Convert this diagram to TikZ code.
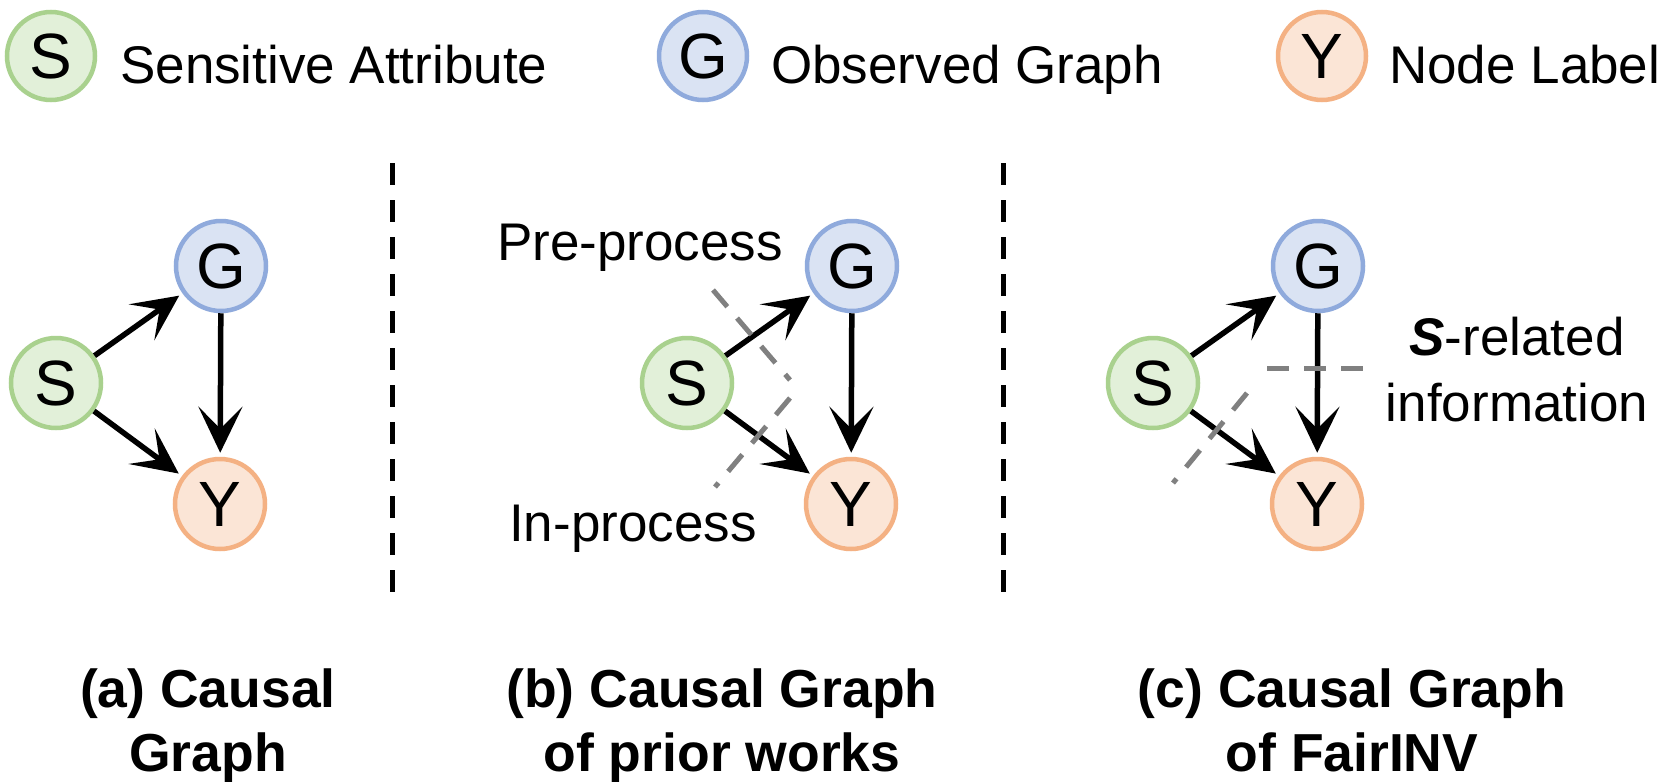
\documentclass[tikz,border=0pt]{standalone}
\usepackage{fontspec}
\setmainfont{Liberation Sans}
\usetikzlibrary{arrows.meta}
\definecolor{sfill}{HTML}{E2F0D9}
\definecolor{sdraw}{HTML}{A9D18E}
\definecolor{gfill}{HTML}{DAE3F3}
\definecolor{gdraw}{HTML}{8FAADC}
\definecolor{yfill}{HTML}{FBE5D6}
\definecolor{ydraw}{HTML}{F4B183}
\definecolor{cutgray}{HTML}{808080}
\begin{document}
\begin{tikzpicture}[x=1pt,y=-1pt,
  var/.style={circle, line width=4.5pt, minimum size=90pt, inner sep=0pt, font=\fontsize{64}{66}\selectfont},
  svar/.style={var, draw=sdraw, fill=sfill},
  gvar/.style={var, draw=gdraw, fill=gfill},
  yvar/.style={var, draw=ydraw, fill=yfill},
  lbl/.style={font=\fontsize{53}{63}\selectfont, inner sep=0pt},
  captxt/.style={font=\fontsize{53.5}{64}\selectfont\bfseries, inner sep=0pt},
  edge/.style={line width=5.5pt, -{Stealth[length=46pt,width=44pt,inset=22pt]}, shorten >=4pt},
  sepline/.style={line width=5pt, dash pattern=on 22pt off 15pt},
  cutline/.style={draw=cutgray, line width=5pt, dash pattern=on 22pt off 15pt}]
\path[fill=white, use as bounding box] (0,0) rectangle (1658,782);

% legend
\node[svar, minimum size=88pt] (ls) at (51,56) {S};
\node[lbl, anchor=base west] (lst) at (120,83) {Sensitive Attribute};
\node[gvar, minimum size=88pt] (lg) at (703,56) {G};
\node[lbl, anchor=base west] (lgt) at (771,83) {Observed Graph};
\node[yvar, minimum size=88pt] (ly) at (1322,56) {Y};
\node[lbl, anchor=base west] (lyt) at (1389,83) {Node Label};

% separators
\draw[sepline] (392,163) -- (392,593);
\draw[sepline] (1003,163) -- (1003,593);

% (a)
\node[svar] (sa) at (56,383) {S};
\node[gvar] (ga) at (221,266) {G};
\node[yvar] (ya) at (220,504) {Y};
\draw[edge] (sa) -- (ga);
\draw[edge] (sa) -- (ya);
\draw[edge] (ga) -- (ya);

% (b)
\node[svar] (sb) at (687,383) {S};
\node[gvar] (gb) at (852,266) {G};
\node[yvar] (yb) at (851,504) {Y};
\draw[edge] (sb) -- (gb);
\draw[edge] (sb) -- (yb);
\draw[edge] (gb) -- (yb);
\draw[cutline] (713,290) -- (790,380);
\draw[cutline] (790,398) -- (715,487);
\node[lbl, anchor=base west] (pre) at (497,260) {Pre-process};
\node[lbl, anchor=base west] (inp) at (509,541) {In-process};

% (c)
\node[svar] (sc) at (1153,383) {S};
\node[gvar] (gc) at (1318,266) {G};
\node[yvar] (yc) at (1317,504) {Y};
\draw[edge] (sc) -- (gc);
\draw[edge] (sc) -- (yc);
\draw[edge] (gc) -- (yc);
\draw[cutline] (1247,393) -- (1173,483);
\draw[cutline] (1267,368) -- (1363,368);
\node[lbl, anchor=base] (srel) at (1517,355) {{\bfseries\itshape S}-related};
\node[lbl, anchor=base] (sinf) at (1517,421) {information};

% captions
\node[captxt, anchor=base] (ca1) at (208,707) {(a) Causal};
\node[captxt, anchor=base] (ca2) at (208,771) {Graph};
\node[captxt, anchor=base] (cb1) at (722,707) {(b) Causal Graph};
\node[captxt, anchor=base] (cb2) at (722,771) {of prior works};
\node[captxt, anchor=base] (cc1) at (1352,707) {(c) Causal Graph};
\node[captxt, anchor=base] (cc2) at (1352,771) {of FairINV};
\end{tikzpicture}
\end{document}
